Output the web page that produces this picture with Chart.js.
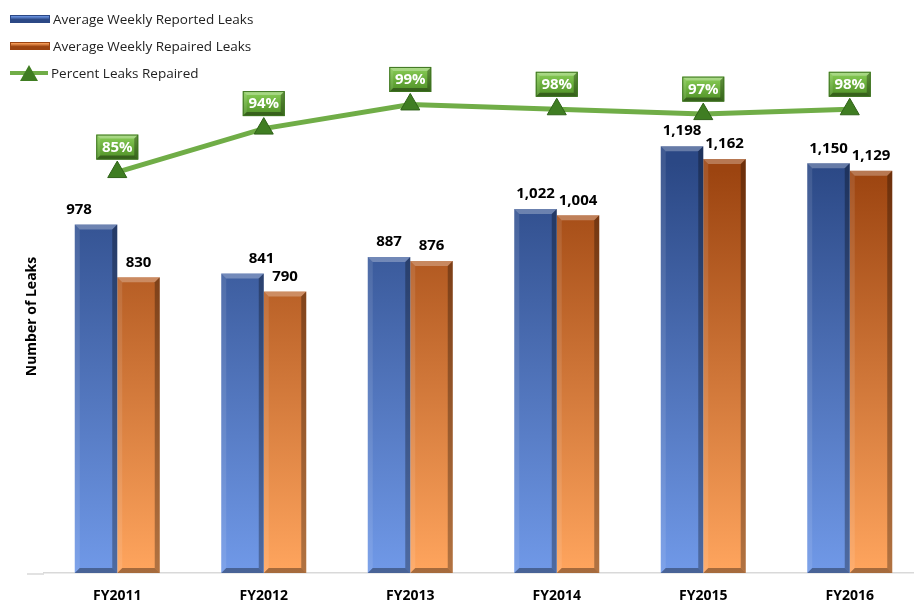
<!DOCTYPE html>
<html>
<head>
<meta charset="utf-8">
<script src="https://cdn.jsdelivr.net/npm/chart.js@4.4.1/dist/chart.umd.min.js"></script>
<style>
    html, body { margin: 0; padding: 0; background: #fff; overflow: hidden; }
    #wrap { position: relative; width: 924px; height: 602px; }
    #jsChart { display: block; }
    #legend { position: absolute; left: 10px; top: 5px; font-family: 'Open Sans', sans-serif; font-size: 13.5px; color: #222; }
    .item { display: flex; align-items: center; height: 27px; }
    .swatch { position: relative; width: 38px; height: 8px; margin-right: 3px; }
    .tri { position: absolute; left: 10px; top: -6px; width: 0; height: 0; border-left: 9px solid transparent; border-right: 9px solid transparent; border-bottom: 16px solid #3f7d22; }
</style>
</head>
<body>
<div id="wrap">
    <canvas id="jsChart" width="924" height="602"></canvas>
    <div id="legend"></div>
</div>
<script>
const categories = ['FY2011', 'FY2012', 'FY2013', 'FY2014', 'FY2015', 'FY2016']
const reportedLeaks = [978, 841, 887, 1022, 1198, 1150]
const repairedLeaks = [830, 790, 876, 1004, 1162, 1129]
const percentRepaired = [85, 94, 99, 98, 97, 98]
const leakAxisRange = [0, 1600]
const percentAxisRange = [2, 120]
const leakAxisTitle = 'Number of Leaks'

const fontFamily = "'Open Sans', sans-serif"

// bar shading: top colour, bottom colour
const barShades = [
    ['#2b4885', '#7099e8'],
    ['#9c4410', '#ffa55e']
]

// a couple of labels sit off-centre in the original
const labelShift = { '0-0': -17, '0-1': 19 }

function bevel(ctx, l, t, r, b, s) {
    const side = Math.min(s, (r - l) / 3)
    const poly = (pts, color) => {
        ctx.beginPath()
        ctx.moveTo(pts[0][0], pts[0][1])
        pts.slice(1).forEach(p => ctx.lineTo(p[0], p[1]))
        ctx.closePath()
        ctx.fillStyle = color
        ctx.fill()
    }
    poly([[l, t], [r, t], [r - side, t + s], [l + side, t + s]], 'rgba(255,255,255,0.28)')
    poly([[l, t], [l + side, t + s], [l + side, b - s], [l, b]], 'rgba(255,255,255,0.10)')
    poly([[r, t], [r - side, t + s], [r - side, b - s], [r, b]], 'rgba(0,0,0,0.30)')
    poly([[l, b], [l + side, b - s], [r - side, b - s], [r, b]], 'rgba(0,0,0,0.35)')
}

const barStylePlugin = {
    id: 'barStyle',
    beforeDatasetsDraw(chart) {
        const ctx = chart.ctx
        chart.data.datasets.forEach((ds, i) => {
            if (ds.type !== 'bar') return
            chart.getDatasetMeta(i).data.forEach(el => {
                const g = ctx.createLinearGradient(0, el.y, 0, el.base)
                g.addColorStop(0, barShades[i][0])
                g.addColorStop(1, barShades[i][1])
                el.options.backgroundColor = g
            })
        })
        // axis line runs a little past the plot on the left
        const y = chart.scales.y.getPixelForValue(0) + 1
        ctx.save()
        ctx.strokeStyle = '#d9d9d9'
        ctx.lineWidth = 1.5
        ctx.beginPath()
        ctx.moveTo(27, y)
        ctx.lineTo(chart.chartArea.left, y)
        ctx.stroke()
        ctx.restore()
    },
    afterDatasetDraw(chart, args) {
        const ds = chart.data.datasets[args.index]
        if (ds.type !== 'bar') return
        const ctx = chart.ctx
        ctx.save()
        args.meta.data.forEach(el => {
            bevel(ctx, el.x - el.width / 2, el.y, el.x + el.width / 2, el.base, 5)
        })
        ctx.restore()
    },
    afterDatasetsDraw(chart) {
        const ctx = chart.ctx
        ctx.save()
        ctx.textAlign = 'center'
        ctx.textBaseline = 'middle'
        chart.data.datasets.forEach((ds, i) => {
            const meta = chart.getDatasetMeta(i)
            if (ds.type === 'bar') {
                ctx.fillStyle = '#000'
                ctx.font = `bold 15px ${fontFamily}`
                meta.data.forEach((el, j) => {
                    const dx = labelShift[i + '-' + j] || 0
                    ctx.fillText(ds.data[j].toLocaleString('en-US'), el.x + dx, el.y - 15)
                })
            } else {
                meta.data.forEach((pt, j) => {
                    const w = 42, h = 25
                    const l = pt.x - w / 2, b = pt.y - 12.5, t = b - h
                    const g = ctx.createLinearGradient(0, t, 0, b)
                    g.addColorStop(0, '#8ccf5a')
                    g.addColorStop(0.5, '#6aae3c')
                    g.addColorStop(1, '#4f8f27')
                    ctx.fillStyle = g
                    ctx.fillRect(l, t, w, h)
                    bevel(ctx, l, t, l + w, b, 4)
                    ctx.strokeStyle = '#3e7420'
                    ctx.lineWidth = 1
                    ctx.strokeRect(l + 0.5, t + 0.5, w - 1, h - 1)
                    ctx.fillStyle = '#fff'
                    ctx.font = `bold 15px ${fontFamily}`
                    ctx.fillText(ds.data[j] + '%', pt.x, (t + b) / 2 + 0.5)
                })
            }
        })
        ctx.restore()
    },
    afterDraw(chart) {
        // axis title sits below the middle of the plot, as in the original
        const ctx = chart.ctx
        ctx.save()
        ctx.translate(32, 316.5)
        ctx.rotate(-Math.PI / 2)
        ctx.textAlign = 'center'
        ctx.textBaseline = 'middle'
        ctx.fillStyle = '#000'
        ctx.font = `bold 14px ${fontFamily}`
        ctx.fillText(leakAxisTitle, 0, 0)
        ctx.restore()
    }
}

function buildLegend(chart) {
    const box = document.getElementById('legend')
    chart.data.datasets.forEach((ds, i) => {
        const item = document.createElement('div')
        item.className = 'item'
        const sw = document.createElement('div')
        sw.className = 'swatch'
        if (ds.type === 'bar') {
            sw.style.background = `linear-gradient(${barShades[i][1]}, ${barShades[i][0]} 60%, ${barShades[i][0]})`
            sw.style.border = '1px solid ' + barShades[i][0]
            sw.style.height = '6px'
        } else {
            sw.style.height = '4px'
            sw.style.background = '#70ad47'
            const tri = document.createElement('div')
            tri.className = 'tri'
            sw.appendChild(tri)
        }
        const label = document.createElement('span')
        label.textContent = ds.label
        item.appendChild(sw)
        item.appendChild(label)
        box.appendChild(item)
    })
}

function initChart() {
    const element = document.getElementById('jsChart')
    const chart = new Chart(element, {
        data: {
            labels: categories,
            datasets: [{
                type: 'bar',
                label: 'Average Weekly Reported Leaks',
                data: reportedLeaks,
                yAxisID: 'y',
                borderWidth: 0,
                order: 1
            }, {
                type: 'bar',
                label: 'Average Weekly Repaired Leaks',
                data: repairedLeaks,
                yAxisID: 'y',
                borderWidth: 0,
                order: 1
            }, {
                type: 'line',
                label: 'Percent Leaks Repaired',
                data: percentRepaired,
                yAxisID: 'y1',
                borderColor: '#70ad47',
                borderWidth: 5,
                pointStyle: 'triangle',
                pointRadius: 11,
                pointBackgroundColor: '#3f7d22',
                pointBorderColor: '#2f6118',
                pointBorderWidth: 1,
                tension: 0,
                order: 0
            }]
        },
        options: {
            responsive: false,
            animation: false,
            datasets: {
                bar: { categoryPercentage: 0.58, barPercentage: 1.0 }
            },
            // canvas is wider than the window: the original plot runs past the right edge
            layout: { autoPadding: false, padding: { left: 44, top: 3, right: 1, bottom: -16.4 } },
            plugins: {
                legend: { display: false },
                tooltip: { enabled: false }
            },
            scales: {
                x: {
                    grid: { display: false, drawTicks: false },
                    border: { display: true, color: '#d9d9d9', width: 1.5 },
                    ticks: {
                        color: '#000',
                        padding: 14.3,
                        font: { family: fontFamily, size: 14, weight: 'bold', lineHeight: 1.2 }
                    }
                },
                y: {
                    position: 'left',
                    display: false,
                    min: leakAxisRange[0],
                    max: leakAxisRange[1]
                },
                y1: {
                    position: 'right',
                    display: false,
                    min: percentAxisRange[0],
                    max: percentAxisRange[1]
                }
            }
        },
        plugins: [barStylePlugin]
    })
    buildLegend(chart)
    return chart
}

initChart()
</script>
</body>
</html>
